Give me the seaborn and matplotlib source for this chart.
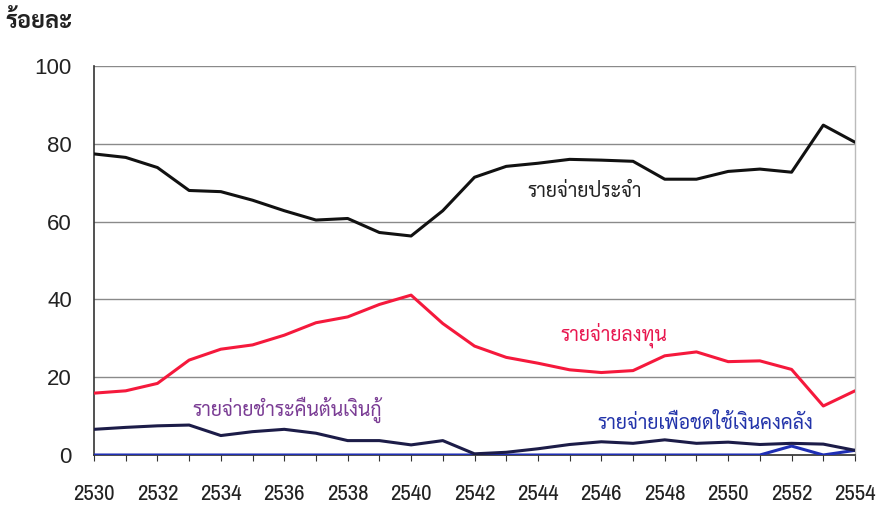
import matplotlib
matplotlib.use("Agg")
import matplotlib.pyplot as plt
from matplotlib import font_manager as fm
import seaborn as sns
import pandas as pd

years = list(range(2530, 2555))
recurrent = [77.4, 76.5, 73.9, 68.0, 67.7, 65.5, 62.8, 60.4, 60.8, 57.2, 56.3, 62.8,
             71.4, 74.2, 75.0, 76.0, 75.8, 75.5, 70.9, 70.9, 72.9, 73.5, 72.7, 84.8, 80.4]
capital = [15.9, 16.5, 18.4, 24.4, 27.2, 28.3, 30.8, 34.0, 35.5, 38.7, 41.1, 33.8,
           28.0, 25.1, 23.6, 21.9, 21.2, 21.7, 25.5, 26.5, 24.0, 24.2, 22.0, 12.6, 16.5]
loan_repay = [6.6, 7.1, 7.5, 7.7, 5.0, 6.0, 6.6, 5.6, 3.7, 3.7, 2.6, 3.7,
              0.3, 0.7, 1.6, 2.7, 3.4, 3.0, 3.9, 3.0, 3.3, 2.7, 3.0, 2.8, 1.2]
treasury = [0.0, 0.0, 0.0, 0.0, 0.0, 0.0, 0.0, 0.0, 0.0, 0.0, 0.0, 0.0,
            0.0, 0.0, 0.0, 0.0, 0.0, 0.0, 0.0, 0.0, 0.0, 0.0, 2.3, 0.0, 1.2]

labels = ["รายจ่ายประจำ", "รายจ่ายลงทุน", "รายจ่ายชำระคืนต้นเงินกู้", "รายจ่ายเพื่อชดใช้เงินคงคลัง"]
xticks = list(range(2530, 2555, 2))
yticks = [0, 20, 40, 60, 80, 100]
ylabel = "ร้อยละ"

sns.set_theme(style="white")
thai = ["Sarabun", "DejaVu Sans"]
plt.rcParams["font.family"] = thai

# pick an installed condensed sans for the year labels
names = {f.name for f in fm.fontManager.ttflist}
narrow = None
for cand in ["Liberation Sans Narrow", "Arial Narrow", "Archivo Narrow", "PT Sans Narrow",
             "Roboto Condensed", "Open Sans Condensed", "Encode Sans Condensed",
             "IBM Plex Sans Condensed", "Fira Sans Condensed", "Barlow Semi Condensed"]:
    if cand in names:
        narrow = cand
        break
if narrow is None:
    narrow = "Liberation Sans"

df = pd.DataFrame({"year": years, "recurrent": recurrent, "capital": capital,
                   "loan": loan_repay, "treasury": treasury})

fig = plt.figure(figsize=(8.81, 5.07), dpi=100)
ax = fig.add_axes([94/881, 1-455/507, (855-94)/881, (455-66)/507])

for y in [20, 40, 60, 80, 100]:
    ax.axhline(y, color="#8a8a8a", lw=1.0, zorder=0)

sns.lineplot(data=df, x="year", y="treasury", ax=ax, color="#1f2fb5", lw=2.2, zorder=3)
sns.lineplot(data=df, x="year", y="loan", ax=ax, color="#1c1c48", lw=2.2, zorder=3)
sns.lineplot(data=df, x="year", y="capital", ax=ax, color="#f5193c", lw=2.2, zorder=3)
sns.lineplot(data=df, x="year", y="recurrent", ax=ax, color="#111111", lw=2.2, zorder=3)

ax.set_xlim(2530, 2554)
ax.set_ylim(0, 100)
ax.set_xlabel("")
ax.set_ylabel("")
ax.set_xticks(xticks)
ax.set_xticks(years, minor=True)
ax.set_yticks(yticks)
ax.set_xticklabels([str(x) for x in xticks], family=[narrow, "DejaVu Sans"], fontsize=16.5,
                   color="#222222", fontweight="normal")
ax.set_yticklabels([str(y) for y in yticks], family=["Liberation Sans", "DejaVu Sans"], fontsize=16, color="#222222")
ax.tick_params(axis="x", which="both", bottom=True, direction="out", length=4, color="#333333", width=0.8)
ax.tick_params(axis="x", which="major", pad=17)
ax.tick_params(axis="y", left=False, pad=10)

ax.spines["top"].set_visible(False)
ax.spines["left"].set_color("#333333")
ax.spines["left"].set_linewidth(1.2)
ax.spines["bottom"].set_color("#333333")
ax.spines["right"].set_color("#bbbbbb")
ax.spines["right"].set_linewidth(1.0)

fig.text(5/881, 1-22/507, ylabel, fontsize=17, fontweight="bold", va="center", ha="left", color="#222222")

ax.text(2543.66, 67.6, labels[0], fontsize=14, color="#222222", va="center", ha="left")
ax.text(2544.7, 30.8, labels[1], fontsize=14, color="#e8174f", va="center", ha="left")
ax.text(2533.1, 11.6, labels[2], fontsize=14, color="#7a3c94", va="center", ha="left")
ax.text(2545.87, 8.2, labels[3], fontsize=14, color="#2233aa", va="center", ha="left")

fig.savefig("out.png", dpi=100)
